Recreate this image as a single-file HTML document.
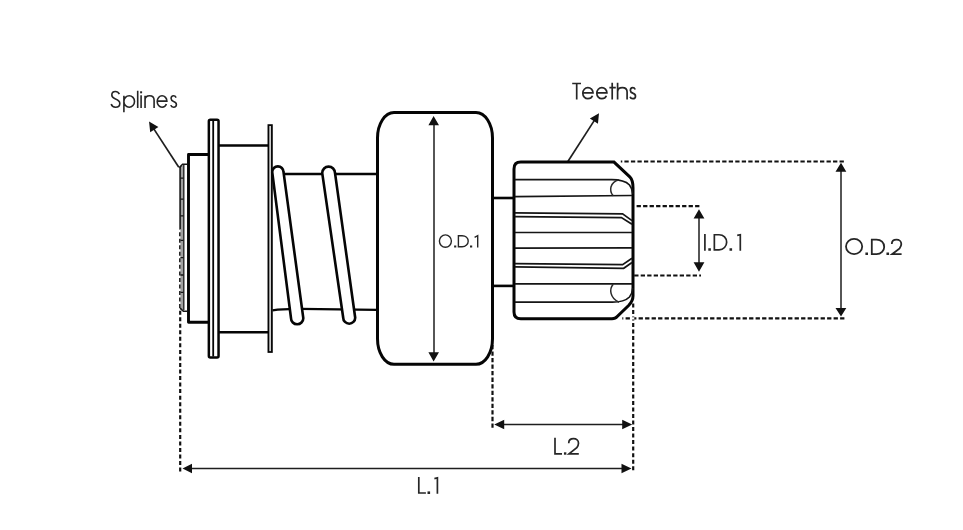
<!DOCTYPE html>
<html><head><meta charset="utf-8">
<style>
html,body{margin:0;padding:0;background:#fff;}
body{width:963px;height:530px;overflow:hidden;font-family:"Liberation Sans",sans-serif;}
svg{display:block;}
</style></head>
<body>
<svg width="963" height="530" viewBox="0 0 963 530">
<rect width="963" height="530" fill="#fff"/>
<path d="M179.1 229 V229.62 H181.3 V229 Z M179.1 232.16 V236.16 H181.3 V232.16 Z M179.1 238.7 V242.7 H181.3 V238.7 Z M179.1 245.24 V249.24 H181.3 V245.24 Z M179.1 251.78 V255.78 H181.3 V251.78 Z M179.1 258.32 V262.32 H181.3 V258.32 Z M179.1 264.86 V268.86 H181.3 V264.86 Z M179.1 271.4 V275.4 H181.3 V271.4 Z M179.1 277.94 V281.94 H181.3 V277.94 Z M179.1 284.48 V288.48 H181.3 V284.48 Z M179.1 291.02 V295.02 H181.3 V291.02 Z M179.1 297.56 V301.56 H181.3 V297.56 Z M179.1 304.1 V308.1 H181.3 V304.1 Z M179.1 310.64 V314.64 H181.3 V310.64 Z M179.1 317.18 V321.18 H181.3 V317.18 Z M179.1 323.72 V327.72 H181.3 V323.72 Z M179.1 330.26 V334.26 H181.3 V330.26 Z M179.1 336.8 V340.8 H181.3 V336.8 Z M179.1 343.34 V347.34 H181.3 V343.34 Z M179.1 349.88 V353.88 H181.3 V349.88 Z M179.1 356.42 V360.42 H181.3 V356.42 Z M179.1 362.96 V366.96 H181.3 V362.96 Z M179.1 369.5 V373.5 H181.3 V369.5 Z M179.1 376.04 V380.04 H181.3 V376.04 Z M179.1 382.58 V386.58 H181.3 V382.58 Z M179.1 389.12 V393.12 H181.3 V389.12 Z M179.1 395.66 V399.66 H181.3 V395.66 Z M179.1 402.2 V406.2 H181.3 V402.2 Z M179.1 408.74 V412.74 H181.3 V408.74 Z M179.1 415.28 V419.28 H181.3 V415.28 Z M179.1 421.82 V425.82 H181.3 V421.82 Z M179.1 428.36 V432.36 H181.3 V428.36 Z M179.1 434.9 V438.9 H181.3 V434.9 Z M179.1 441.44 V445.44 H181.3 V441.44 Z M179.1 447.98 V451.98 H181.3 V447.98 Z M179.1 454.52 V458.52 H181.3 V454.52 Z M179.1 461.06 V465.06 H181.3 V461.06 Z M179.1 467.6 V471.6 H181.3 V467.6 Z M491.4 344.9 V349.2 H493.6 V344.9 Z M491.4 351.44 V355.74 H493.6 V351.44 Z M491.4 357.98 V362.28 H493.6 V357.98 Z M491.4 364.52 V368.82 H493.6 V364.52 Z M491.4 371.06 V375.36 H493.6 V371.06 Z M491.4 377.6 V381.9 H493.6 V377.6 Z M491.4 384.14 V388.44 H493.6 V384.14 Z M491.4 390.68 V394.98 H493.6 V390.68 Z M491.4 397.22 V401.52 H493.6 V397.22 Z M491.4 403.76 V408.06 H493.6 V403.76 Z M491.4 410.3 V414.6 H493.6 V410.3 Z M491.4 416.84 V421.14 H493.6 V416.84 Z M491.4 423.38 V427.68 H493.6 V423.38 Z M632.1 303.4 V307.4 H634.3 V303.4 Z M632.1 309.91 V313.91 H634.3 V309.91 Z M632.1 316.42 V320.42 H634.3 V316.42 Z M632.1 322.93 V326.93 H634.3 V322.93 Z M632.1 329.44 V333.44 H634.3 V329.44 Z M632.1 335.95 V339.95 H634.3 V335.95 Z M632.1 342.46 V346.46 H634.3 V342.46 Z M632.1 348.97 V352.97 H634.3 V348.97 Z M632.1 355.48 V359.48 H634.3 V355.48 Z M632.1 361.99 V365.99 H634.3 V361.99 Z M632.1 368.5 V372.5 H634.3 V368.5 Z M632.1 375.01 V379.01 H634.3 V375.01 Z M632.1 381.52 V385.52 H634.3 V381.52 Z M632.1 388.03 V392.03 H634.3 V388.03 Z M632.1 394.54 V398.54 H634.3 V394.54 Z M632.1 401.05 V405.05 H634.3 V401.05 Z M632.1 407.56 V411.56 H634.3 V407.56 Z M632.1 414.07 V418.07 H634.3 V414.07 Z M632.1 420.58 V424.58 H634.3 V420.58 Z M632.1 427.09 V431.09 H634.3 V427.09 Z M632.1 433.6 V437.6 H634.3 V433.6 Z M632.1 440.11 V444.11 H634.3 V440.11 Z M632.1 446.62 V450.62 H634.3 V446.62 Z M632.1 453.13 V457.13 H634.3 V453.13 Z M632.1 459.64 V463.64 H634.3 V459.64 Z M632.1 466.15 V470.15 H634.3 V466.15 Z M620.8 160.4 H622.3 V162.6 H620.8 Z M624.4 160.4 H628.7 V162.6 H624.4 Z M630.92 160.4 H635.22 V162.6 H630.92 Z M637.44 160.4 H641.74 V162.6 H637.44 Z M643.96 160.4 H648.26 V162.6 H643.96 Z M650.48 160.4 H654.78 V162.6 H650.48 Z M657 160.4 H661.3 V162.6 H657 Z M663.52 160.4 H667.82 V162.6 H663.52 Z M670.04 160.4 H674.34 V162.6 H670.04 Z M676.56 160.4 H680.86 V162.6 H676.56 Z M683.08 160.4 H687.38 V162.6 H683.08 Z M689.6 160.4 H693.9 V162.6 H689.6 Z M696.12 160.4 H700.42 V162.6 H696.12 Z M702.64 160.4 H706.94 V162.6 H702.64 Z M709.16 160.4 H713.46 V162.6 H709.16 Z M715.68 160.4 H719.98 V162.6 H715.68 Z M722.2 160.4 H726.5 V162.6 H722.2 Z M728.72 160.4 H733.02 V162.6 H728.72 Z M735.24 160.4 H739.54 V162.6 H735.24 Z M741.76 160.4 H746.06 V162.6 H741.76 Z M748.28 160.4 H752.58 V162.6 H748.28 Z M754.8 160.4 H759.1 V162.6 H754.8 Z M761.32 160.4 H765.62 V162.6 H761.32 Z M767.84 160.4 H772.14 V162.6 H767.84 Z M774.36 160.4 H778.66 V162.6 H774.36 Z M780.88 160.4 H785.18 V162.6 H780.88 Z M787.4 160.4 H791.7 V162.6 H787.4 Z M793.92 160.4 H798.22 V162.6 H793.92 Z M800.44 160.4 H804.74 V162.6 H800.44 Z M806.96 160.4 H811.26 V162.6 H806.96 Z M813.48 160.4 H817.78 V162.6 H813.48 Z M820 160.4 H824.3 V162.6 H820 Z M826.52 160.4 H830.82 V162.6 H826.52 Z M833.04 160.4 H837.34 V162.6 H833.04 Z M839.56 160.4 H843.86 V162.6 H839.56 Z M622.3 317.2 H623.3 V319.4 H622.3 Z M625.6 317.2 H629.9 V319.4 H625.6 Z M632.1 317.2 H636.4 V319.4 H632.1 Z M638.6 317.2 H642.9 V319.4 H638.6 Z M645.1 317.2 H649.4 V319.4 H645.1 Z M651.6 317.2 H655.9 V319.4 H651.6 Z M658.1 317.2 H662.4 V319.4 H658.1 Z M664.6 317.2 H668.9 V319.4 H664.6 Z M671.1 317.2 H675.4 V319.4 H671.1 Z M677.6 317.2 H681.9 V319.4 H677.6 Z M684.1 317.2 H688.4 V319.4 H684.1 Z M690.6 317.2 H694.9 V319.4 H690.6 Z M697.1 317.2 H701.4 V319.4 H697.1 Z M703.6 317.2 H707.9 V319.4 H703.6 Z M710.1 317.2 H714.4 V319.4 H710.1 Z M716.6 317.2 H720.9 V319.4 H716.6 Z M723.1 317.2 H727.4 V319.4 H723.1 Z M729.6 317.2 H733.9 V319.4 H729.6 Z M736.1 317.2 H740.4 V319.4 H736.1 Z M742.6 317.2 H746.9 V319.4 H742.6 Z M749.1 317.2 H753.4 V319.4 H749.1 Z M755.6 317.2 H759.9 V319.4 H755.6 Z M762.1 317.2 H766.4 V319.4 H762.1 Z M768.6 317.2 H772.9 V319.4 H768.6 Z M775.1 317.2 H779.4 V319.4 H775.1 Z M781.6 317.2 H785.9 V319.4 H781.6 Z M788.1 317.2 H792.4 V319.4 H788.1 Z M794.6 317.2 H798.9 V319.4 H794.6 Z M801.1 317.2 H805.4 V319.4 H801.1 Z M807.6 317.2 H811.9 V319.4 H807.6 Z M814.1 317.2 H818.4 V319.4 H814.1 Z M820.6 317.2 H824.9 V319.4 H820.6 Z M827.1 317.2 H831.4 V319.4 H827.1 Z M833.6 317.2 H837.9 V319.4 H833.6 Z M840.1 317.2 H844.4 V319.4 H840.1 Z M636.6 205.1 H640.9 V207.3 H636.6 Z M643.1 205.1 H647.4 V207.3 H643.1 Z M649.6 205.1 H653.9 V207.3 H649.6 Z M656.1 205.1 H660.4 V207.3 H656.1 Z M662.6 205.1 H666.9 V207.3 H662.6 Z M669.1 205.1 H673.4 V207.3 H669.1 Z M675.6 205.1 H679.9 V207.3 H675.6 Z M682.1 205.1 H686.4 V207.3 H682.1 Z M688.6 205.1 H692.9 V207.3 H688.6 Z M695.1 205.1 H699.4 V207.3 H695.1 Z M634.2 274.4 H638.5 V276.6 H634.2 Z M640.7 274.4 H645 V276.6 H640.7 Z M647.2 274.4 H651.5 V276.6 H647.2 Z M653.7 274.4 H658 V276.6 H653.7 Z M660.2 274.4 H664.5 V276.6 H660.2 Z M666.7 274.4 H671 V276.6 H666.7 Z M673.2 274.4 H677.5 V276.6 H673.2 Z M679.7 274.4 H684 V276.6 H679.7 Z M686.2 274.4 H690.5 V276.6 H686.2 Z M692.7 274.4 H697 V276.6 H692.7 Z M699.2 274.4 H701 V276.6 H699.2 Z" fill="#111"/>
<g stroke="#1e1e1e" stroke-width="1.6" fill="none">
<line x1="190" y1="468.5" x2="623" y2="468.5"/>
<line x1="502" y1="424.5" x2="624" y2="424.5"/>
<line x1="434" y1="124" x2="434" y2="354" stroke-width="1.5"/>
<line x1="841" y1="170" x2="841" y2="309" stroke-width="1.5"/>
<line x1="699" y1="217" x2="699" y2="264" stroke-width="1.5"/>
<line x1="153" y1="127.6" x2="178.8" y2="167.2" stroke-width="1.7"/>
<line x1="595" y1="119.4" x2="567.9" y2="161.5" stroke-width="1.7"/>
</g>
<path d="M182.5 468.5 L192 463.8 L192 473.2 Z M631.5 468.5 L621.5 463.8 L621.5 473.2 Z M494.2 424.5 L504.2 419.8 L504.2 429.2 Z M632.2 424.5 L622.2 419.8 L622.2 429.2 Z M433.6 115.9 L428.4 125.2 L439 125.2 Z M433.6 361.6 L428.4 352.3 L439 352.3 Z M841 162.8 L835.5 171.8 L846.3 171.8 Z M841 316.6 L835.5 308.1 L846.3 308.1 Z M699 209.2 L693.6 218.6 L704.4 218.6 Z M699 271.7 L693.6 262.3 L704.4 262.3 Z M149.05 121.6 L150.19 132.32 L158.4 126.96 Z M599 113.2 L589.88 118.5 L597.95 123.7 Z" fill="#111"/>
<g stroke="#050505" fill="none" stroke-linejoin="round">
<path d="M208 154.5 H188.5 V322.3 H208" stroke-width="2.9"/>
<line x1="219" y1="145.6" x2="268" y2="145.6" stroke-width="2.5"/>
<line x1="219" y1="332.3" x2="268" y2="332.3" stroke-width="2.5"/>
<rect x="208.85" y="119.75" width="9.7" height="237.8" rx="1.5" stroke-width="2.5" fill="#fff"/>
<line x1="213.2" y1="121" x2="213.2" y2="356.5" stroke-width="1.8"/>
<rect x="268.4" y="125.1" width="3.5" height="226.9" stroke-width="1.75" fill="#cfcfcf" stroke-linejoin="miter"/>
<line x1="272.5" y1="174.1" x2="377" y2="174.1" stroke-width="2.5"/>
<path d="M272.5 310.4 Q284 308.6 300 308.9 L377 309.9" stroke-width="2.4"/>
<rect x="377.5" y="112.5" width="115" height="251.8" rx="16.5" ry="25.5" stroke-width="3"/>
<line x1="494" y1="198" x2="513" y2="198" stroke-width="2.6"/>
<line x1="494" y1="285.9" x2="513" y2="285.9" stroke-width="2.6"/>
</g>
<g stroke="#050505" stroke-width="2.6" fill="#fff">
<path d="M272.2 172 A5.65 5.65 0 0 1 283.5 172 L303.3 318.15 A6.15 6.15 0 0 1 291 318.15 Z"/>
<path d="M322.2 173 A6.4 6.4 0 0 1 335 173 L355.2 317.7 A6 6 0 0 1 343.2 317.7 Z"/>
</g>
<rect x="180.4" y="166" width="3" height="143" fill="#a0a0a0"/>
<g stroke="#151515" fill="none">
<line x1="180.1" y1="167" x2="180.1" y2="229" stroke-width="1.6"/>
<line x1="183.8" y1="165" x2="183.8" y2="310" stroke-width="1.3"/>
<path d="M179.4 167.6 L182.6 164.2 H187.2" stroke-width="1.6"/>
<path d="M180 308.2 L183.4 311.2 H187.2" stroke-width="1.6"/>
<path d="M180.5 178.1 H183.5 M180.5 199.2 H183.5 M180.5 215.8 H183.5 M180.5 240.3 H183.5 M180.5 257.6 H183.5 M180.5 275 H183.5 M180.5 292.4 H183.5" stroke-width="1.3"/>
</g>
<g stroke="#050505" fill="none">
<path d="M520.8 162.1 H614 L629.8 176.9 Q633 180 633 188 V296 Q633 301 628.6 305.5 L617 316.7 Q615.5 318.8 612 318.8 H520.8 Q514 318.8 514 312 V168.9 Q514 162.1 520.8 162.1 Z" stroke-width="3"/>
<g stroke-width="1.7" stroke="#151515">
<path d="M515 179.7 H611 C620 179.6 626 181.5 629.5 185 C631.5 187.5 632.5 190.5 632.8 194"/>
<line x1="515" y1="196.6" x2="632" y2="195.5"/>
<path d="M515 212.8 L622.6 213.8 L632 220.6"/>
<path d="M515 216.6 L621.4 217.6 L632 224.3"/>
<line x1="515" y1="232.5" x2="632" y2="232.5"/>
<line x1="515" y1="248.1" x2="632" y2="247.9"/>
<path d="M515 263.6 L622.6 264.7 L632 258.3"/>
<path d="M515 266.9 L623.7 268.3 L632 262.5"/>
<line x1="515" y1="283.8" x2="632" y2="283.8"/>
<path d="M515 302.2 H611 C620 302.4 626 300.5 629.5 297 C631.5 294.5 632.5 291.5 632.8 288"/>
</g>
<g stroke-width="1.5" stroke="#2a2a2a">
<path d="M613.2 195.8 C609 191 609.5 182.5 619 179.8"/>
<path d="M613.2 284.2 C609 289 609.8 298 619 302.2"/>
</g>
</g>
<path d="M119.37 94.17 C118.42 92.28 117.05 91.5 115.41 91.5 C113.26 91.5 111.8 93.07 111.8 95.11 C111.8 97.31 113.35 98.25 115.5 99.04 C117.91 99.98 119.8 101.08 119.8 103.43 C119.8 105.63 118.08 107.2 115.5 107.2 C113.35 107.2 111.72 105.94 111.2 104.06 M123.9 95.74 V112.2 M123.9 101.47 C123.9 98.3 126.27 95.74 129.2 95.74 C132.13 95.74 134.5 98.3 134.5 101.47 C134.5 104.63 132.13 107.2 129.2 107.2 C126.27 107.2 123.9 104.63 123.9 101.47 Z M137.7 90.7 V108 M141.1 95.34 V108 M145.05 95.74 V108 M145.05 100.09 C145.05 97.11 147.31 95.74 149.57 95.74 C152.11 95.74 154.1 97.11 154.1 100.32 V108 M157.2 101.13 H166.9 C166.9 98.3 164.73 95.74 162.05 95.74 C159.37 95.74 157.2 98.3 157.2 101.47 C157.2 104.63 159.37 107.2 162.05 107.2 C164.23 107.2 165.93 105.48 166.41 104.11 M176.12 97.69 C175.5 96.31 174.61 95.74 173.54 95.74 C172.14 95.74 171.08 96.89 171.08 98.6 C171.08 100.32 172.2 100.9 173.6 101.47 C175.17 102.04 176.4 102.84 176.4 104.56 C176.4 106.17 175.28 107.2 173.6 107.2 C172.2 107.2 171.14 106.4 170.8 105.14" fill="none" stroke="#262626" stroke-width="1.6" stroke-linecap="butt" stroke-linejoin="miter"/><path d="M140.1 91.3 h2 v2 h-2 Z" fill="#262626"/>
<path d="M572.2 83.5 H581 M576.7 83.5 V99.55 M582.8 92.82 H593 C593 90.09 590.72 87.6 587.9 87.6 C585.08 87.6 582.8 90.09 582.8 93.15 C582.8 96.22 585.08 98.7 587.9 98.7 C590.19 98.7 591.98 97.04 592.49 95.7 M596.8 92.82 H606.9 C606.9 90.09 604.64 87.6 601.85 87.6 C599.06 87.6 596.8 90.09 596.8 93.15 C596.8 96.22 599.06 98.7 601.85 98.7 C604.12 98.7 605.89 97.04 606.39 95.7 M612.2 82.65 V99.55 M609.4 87.6 H615.8 M617.6 82.65 V99.55 M617.6 91.82 C617.6 88.94 619.98 87.6 622.35 87.6 C625.01 87.6 627.1 88.94 627.1 92.04 V99.55 M635.23 89.49 C634.64 88.16 633.77 87.6 632.75 87.6 C631.4 87.6 630.37 88.71 630.37 90.38 C630.37 92.04 631.45 92.6 632.8 93.15 C634.31 93.71 635.5 94.48 635.5 96.15 C635.5 97.7 634.42 98.7 632.8 98.7 C631.45 98.7 630.42 97.92 630.1 96.7" fill="none" stroke="#262626" stroke-width="1.7" stroke-linecap="butt" stroke-linejoin="miter"/>
<path d="M439.4 241.05 C439.4 237.65 442.09 234.9 445.4 234.9 C448.71 234.9 451.4 237.65 451.4 241.05 C451.4 244.45 448.71 247.2 445.4 247.2 C442.09 247.2 439.4 244.45 439.4 241.05 Z M458.4 235.7 V246.8 H462.12 C465.75 246.8 468.2 244.03 468.2 241.25 C468.2 238.14 465.75 235.7 462.12 235.7 Z M474.6 237.3 L477.7 235.7 V247.5" fill="none" stroke="#262626" stroke-width="1.4" stroke-linecap="butt" stroke-linejoin="miter"/><path d="M454.1 245.4 h2.2 v2.2 h-2.2 Z M470 245.4 h2.2 v2.2 h-2.2 Z" fill="#262626"/>
<path d="M704.9 233.9 V250.7 M714.35 234.75 V249.85 H719.02 C723.58 249.85 726.65 246.07 726.65 242.3 C726.65 238.07 723.58 234.75 719.02 234.75 Z M737.2 235.3 L740.3 234.75 V250.7" fill="none" stroke="#262626" stroke-width="1.7" stroke-linecap="butt" stroke-linejoin="miter"/><path d="M708.3 248.2 h2.6 v2.6 h-2.6 Z M729.5 248.2 h2.6 v2.6 h-2.6 Z" fill="#262626"/>
<path d="M846 246.55 C846 242.32 849.63 238.9 854.1 238.9 C858.57 238.9 862.2 242.32 862.2 246.55 C862.2 250.78 858.57 254.2 854.1 254.2 C849.63 254.2 846 250.78 846 246.55 Z M871.8 239.6 V254.2 H876.51 C881.1 254.2 884.2 250.55 884.2 246.9 C884.2 242.81 881.1 239.6 876.51 239.6 Z M891.8 243.98 C891.8 241.06 893.96 239.6 896.5 239.6 C899.25 239.6 901.31 241.35 901.31 243.98 C901.31 245.73 900.62 246.9 899.64 248.36 L892.09 254.2 H901.6" fill="none" stroke="#262626" stroke-width="1.8" stroke-linecap="butt" stroke-linejoin="miter"/><path d="M865.4 252.5 h2.6 v2.6 h-2.6 Z M886.45 252.5 h2.6 v2.6 h-2.6 Z" fill="#262626"/>
<path d="M555 437.75 V453.8 H562 M568.7 443.16 C568.7 440.12 570.92 438.6 573.55 438.6 C576.38 438.6 578.5 440.42 578.5 443.16 C578.5 444.98 577.79 446.2 576.78 447.72 L569 453.8 H578.8" fill="none" stroke="#262626" stroke-width="1.7" stroke-linecap="butt" stroke-linejoin="miter"/><path d="M563.95 452.3 h2.4 v2.4 h-2.4 Z" fill="#262626"/>
<path d="M418.8 476.95 V493 H425.9 M434.4 478.6 L437.4 477.8 V493.85" fill="none" stroke="#262626" stroke-width="1.7" stroke-linecap="butt" stroke-linejoin="miter"/><path d="M427.5 491.4 h2.6 v2.6 h-2.6 Z" fill="#262626"/>
</svg>
</body></html>
